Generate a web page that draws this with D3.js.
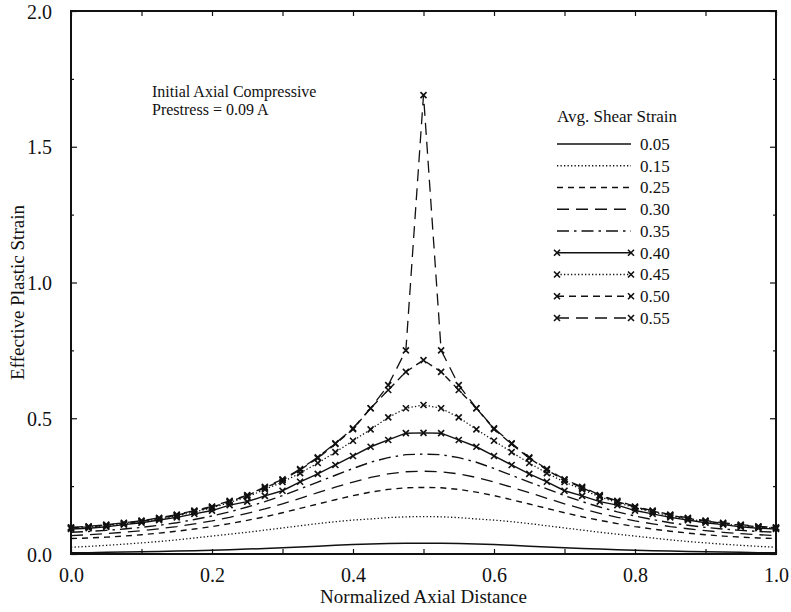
<!DOCTYPE html>
<html><head><meta charset="utf-8">
<script src="https://cdn.jsdelivr.net/npm/d3@7"></script>
<style>body{margin:0;background:#fff}svg{display:block}text{font-family:"Liberation Serif","Times New Roman",serif;fill:#111}</style>
</head><body><svg id="c" width="791" height="612"></svg>
<script>
const xPositions = [0,0.025,0.05,0.075,0.1,0.125,0.15,0.175,0.2,0.225,0.25,0.275,0.3,0.325,0.35,0.375,0.4,0.425,0.45,0.475,0.5,0.525,0.55,0.575,0.6,0.625,0.65,0.675,0.7,0.725,0.75,0.775,0.8,0.825,0.85,0.875,0.9,0.925,0.95,0.975,1.0];
const seriesNames = ["0.05","0.15","0.25","0.30","0.35","0.40","0.45","0.50","0.55"];
const s005 = [0.005,0.005,0.006,0.007,0.008,0.009,0.011,0.012,0.014,0.016,0.018,0.020,0.023,0.026,0.029,0.032,0.035,0.037,0.039,0.040,0.040,0.040,0.039,0.037,0.035,0.032,0.029,0.026,0.023,0.020,0.018,0.016,0.014,0.012,0.011,0.009,0.008,0.007,0.006,0.005,0.005];
const s015 = [0.025,0.028,0.032,0.036,0.041,0.046,0.052,0.059,0.066,0.073,0.080,0.088,0.096,0.104,0.112,0.119,0.125,0.129,0.134,0.137,0.138,0.137,0.134,0.129,0.125,0.119,0.112,0.104,0.096,0.088,0.080,0.073,0.066,0.059,0.052,0.046,0.041,0.036,0.032,0.028,0.025];
const s025 = [0.057,0.059,0.062,0.066,0.071,0.077,0.084,0.092,0.101,0.112,0.124,0.137,0.152,0.168,0.184,0.200,0.215,0.228,0.238,0.244,0.245,0.244,0.238,0.228,0.215,0.200,0.184,0.168,0.152,0.137,0.124,0.112,0.101,0.092,0.084,0.077,0.071,0.066,0.062,0.059,0.057];
const s030 = [0.068,0.071,0.075,0.080,0.086,0.093,0.101,0.111,0.122,0.135,0.150,0.166,0.185,0.205,0.226,0.246,0.265,0.282,0.295,0.303,0.305,0.303,0.295,0.282,0.265,0.246,0.226,0.205,0.185,0.166,0.150,0.135,0.122,0.111,0.101,0.093,0.086,0.080,0.075,0.071,0.068];
const s035 = [0.080,0.083,0.087,0.092,0.098,0.106,0.115,0.127,0.140,0.155,0.173,0.193,0.215,0.240,0.265,0.290,0.315,0.338,0.355,0.366,0.368,0.366,0.355,0.338,0.315,0.290,0.265,0.240,0.215,0.193,0.173,0.155,0.140,0.127,0.115,0.106,0.098,0.092,0.087,0.083,0.080];
const s040 = [0.092,0.095,0.100,0.108,0.115,0.125,0.135,0.148,0.160,0.180,0.193,0.214,0.233,0.266,0.295,0.328,0.361,0.395,0.420,0.445,0.446,0.445,0.420,0.395,0.361,0.328,0.295,0.266,0.233,0.214,0.193,0.180,0.160,0.148,0.135,0.125,0.115,0.108,0.100,0.095,0.092];
const s045 = [0.095,0.099,0.104,0.111,0.120,0.129,0.140,0.155,0.170,0.190,0.210,0.238,0.265,0.298,0.335,0.375,0.417,0.459,0.503,0.537,0.549,0.537,0.503,0.459,0.417,0.375,0.335,0.298,0.265,0.238,0.210,0.190,0.170,0.155,0.140,0.129,0.120,0.111,0.104,0.099,0.095];
const s050 = [0.097,0.100,0.106,0.113,0.121,0.131,0.143,0.158,0.173,0.193,0.215,0.244,0.272,0.310,0.353,0.405,0.460,0.537,0.604,0.671,0.714,0.671,0.604,0.537,0.460,0.405,0.353,0.310,0.272,0.244,0.215,0.193,0.173,0.158,0.143,0.131,0.121,0.113,0.106,0.100,0.097];
const s055 = [0.098,0.102,0.108,0.115,0.123,0.133,0.145,0.160,0.175,0.196,0.217,0.247,0.275,0.313,0.356,0.408,0.463,0.537,0.622,0.750,1.690,0.750,0.622,0.537,0.463,0.408,0.356,0.313,0.275,0.247,0.217,0.196,0.175,0.160,0.145,0.133,0.123,0.115,0.108,0.102,0.098];
const xTickValues = [0,0.1,0.2,0.3,0.4,0.5,0.6,0.7,0.8,0.9,1.0];
const xTickLabels = ["0.0","","0.2","","0.4","","0.6","","0.8","","1.0"];
const yTickValues = [0,0.25,0.5,0.75,1.0,1.25,1.5,1.75,2.0];
const yTickLabels = ["0.0","","0.5","","1.0","","1.5","","2.0"];

const allSeries = [s005,s015,s025,s030,s035,s040,s045,s050,s055];
const styles = [
  {dash:null, marker:false, w:1.5},
  {dash:"1.3,2.2", marker:false, w:1.3},
  {dash:"6,5", marker:false, w:1.4},
  {dash:"12,7", marker:false, w:1.3},
  {dash:"12,5,2.5,5", marker:false, w:1.4},
  {dash:null, marker:true, w:1.4},
  {dash:"1.3,2.2", marker:true, w:1.3},
  {dash:"7,5", marker:true, w:1.4},
  {dash:"12,7", marker:true, w:1.3}
];

const svg = d3.select("#c");
const L=71, R=776, T=11, B=554;
const x = d3.scaleLinear().domain([0,1]).range([L,R]);
const y = d3.scaleLinear().domain([0,2]).range([B,T]);

// axes (inside ticks)
const fmtX = (d,i)=>xTickLabels[i];
const fmtY = (d,i)=>yTickLabels[i];
const gx = svg.append("g").attr("transform",`translate(0,${B})`)
  .call(d3.axisBottom(x).tickValues(xTickValues).tickSizeInner(-5).tickSizeOuter(0).tickPadding(14).tickFormat(fmtX));
const gxt = svg.append("g").attr("transform",`translate(0,${T})`)
  .call(d3.axisTop(x).tickValues(xTickValues).tickSizeInner(-5).tickSizeOuter(0).tickFormat(()=>""));
const gy = svg.append("g").attr("transform",`translate(${L},0)`)
  .call(d3.axisLeft(y).tickValues(yTickValues).tickSizeInner(-6).tickSizeOuter(0).tickPadding(19).tickFormat(fmtY));
const gyr = svg.append("g").attr("transform",`translate(${R},0)`)
  .call(d3.axisRight(y).tickValues(yTickValues).tickSizeInner(-6).tickSizeOuter(0).tickFormat(()=>""));
[gx,gxt,gy,gyr].forEach(g=>{
  g.select(".domain").remove();
  g.selectAll("line").attr("stroke","#111").attr("stroke-width",1.2);
  g.selectAll("text").style("font-family",'"Liberation Serif",serif').style("font-size","20px").attr("fill","#111");
});
gy.selectAll(".tick").filter((d,i)=>i%2===1).select("line").attr("x2",3);
gyr.selectAll(".tick").filter((d,i)=>i%2===1).select("line").attr("x2",-3);
gy.selectAll("text").attr("dy","0.35em");

// frame
svg.append("rect").attr("x",L).attr("y",T).attr("width",R-L).attr("height",B-T)
  .attr("fill","none").attr("stroke","#111").attr("stroke-width",2);

// axis titles
svg.append("text").attr("x",(L+R)/2).attr("y",603).attr("text-anchor","middle")
  .style("font-size","19px").text("Normalized Axial Distance");
svg.append("text").attr("transform",`translate(24,${(T+B)/2+10}) rotate(-90)`).attr("text-anchor","middle")
  .style("font-size","19px").text("Effective Plastic Strain");

// annotation
svg.append("text").attr("x",152).attr("y",97).style("font-size","16px").text("Initial Axial Compressive");
svg.append("text").attr("x",152).attr("y",115).style("font-size","16px").text("Prestress = 0.09 A");

const line = d3.line().x((d,i)=>x(xPositions[i])).y(d=>y(d));
function cross(g, cx, cy){
  const s=3;
  g.append("path").attr("d",`M${cx-s},${cy-s}L${cx+s},${cy+s}M${cx-s},${cy+s}L${cx+s},${cy-s}`)
    .attr("stroke","#111").attr("stroke-width",1.6).attr("fill","none");
}
const plot = svg.append("g");
allSeries.forEach((vals,k)=>{
  const st = styles[k];
  plot.append("path").attr("d",line(vals)).attr("fill","none").attr("stroke","#111")
    .attr("stroke-width",st.w).attr("stroke-dasharray",st.dash);
  if(st.marker){
    vals.forEach((v,i)=>cross(plot, x(xPositions[i]), y(v)));
  }
});

// legend
const lg = svg.append("g");
lg.append("text").attr("x",557).attr("y",122).style("font-size","17px").text("Avg. Shear Strain");
seriesNames.forEach((name,k)=>{
  const st = styles[k];
  const yy = 144 + k*21.75;
  lg.append("line").attr("x1",557).attr("x2",631).attr("y1",yy).attr("y2",yy)
    .attr("stroke","#111").attr("stroke-width",st.w).attr("stroke-dasharray",st.dash);
  if(st.marker){ cross(lg,557,yy); cross(lg,631,yy); }
  lg.append("text").attr("x",640).attr("y",yy).attr("dy","0.35em").style("font-size","17px").text(name);
});
</script></body></html>
